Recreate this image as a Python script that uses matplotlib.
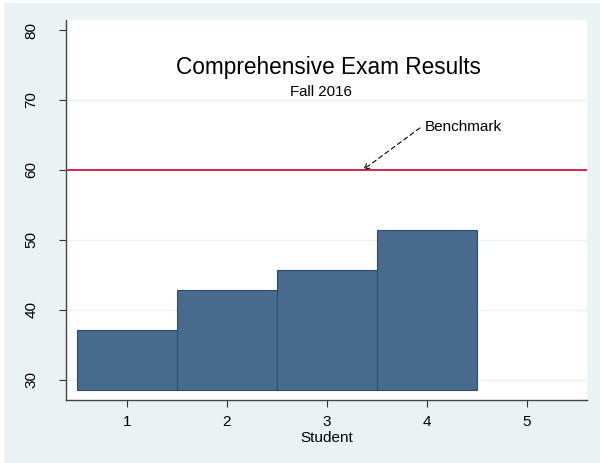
import matplotlib
matplotlib.use("Agg")
import matplotlib.pyplot as plt
from matplotlib.patches import Rectangle

students = [1, 2, 3, 4]
scores = [37.1, 42.8, 45.7, 51.4]
bar_base = 28.6
benchmark = 60
xticks = [1, 2, 3, 4, 5]
yticks = [30, 40, 50, 60, 70, 80]
title = "Comprehensive Exam Results"
subtitle = "Fall 2016"
xlabel = "Student"
note = "Benchmark"

plt.rcParams['font.family'] = ['Liberation Sans', 'DejaVu Sans']

BG = '#EAF2F3'
fig = plt.figure(figsize=(6.0, 4.63), dpi=100)
fig.patch.set_facecolor('white')
fig.patches.append(Rectangle((4/600, 0), 1, 1 - 3/463, transform=fig.transFigure,
                             facecolor=BG, edgecolor='none', zorder=-10))

ax = fig.add_axes([66/600, 1 - 400/463, (587 - 66)/600, (400 - 20)/463])
ax.set_facecolor('white')

for g in [30, 40, 50, 70]:
    ax.axhline(g, color=BG, lw=1.0, zorder=0)

heights = [s - bar_base for s in scores]
ax.bar(students, heights, width=1.0, bottom=bar_base, color='#486A8C',
       edgecolor='#2A4D70', linewidth=0.8, zorder=2)

ax.axhline(benchmark, color='#D2143C', lw=1.3, zorder=3)

ax.annotate('', xy=(3.36, benchmark), xytext=(3.93, 66.0),
            arrowprops=dict(arrowstyle='->', linestyle=(0, (4, 3)), color='black',
                            lw=0.8, shrinkA=0, shrinkB=0), zorder=4)
ax.text(3.975, 66.1, note, ha='left', va='center', fontsize=11, color='black')

ax.text(0.503, 0.874, title, transform=ax.transAxes, ha='center', va='center',
        fontsize=16.3, color='black')
ax.text(0.489, 0.811, subtitle, transform=ax.transAxes, ha='center', va='center',
        fontsize=10.8, color='black')

ax.set_xlim(0.394, 5.6)
ax.set_ylim(27.14, 81.43)
ax.set_xticks(xticks)
ax.set_yticks(yticks)
ax.set_xticklabels([str(t) for t in xticks], fontsize=11)
ax.set_yticklabels([str(t) for t in yticks], fontsize=11, rotation=90, va='center')
ax.tick_params(axis='x', length=5, width=0.8, pad=6, color='#333333')
ax.tick_params(axis='y', length=5, width=0.8, pad=15, color='#333333')
ax.set_xlabel(xlabel, fontsize=11, labelpad=1)

for s in ['top', 'right']:
    ax.spines[s].set_visible(False)
for s in ['left', 'bottom']:
    ax.spines[s].set_color('#444444')
    ax.spines[s].set_linewidth(1.0)

fig.savefig('out.png', dpi=100, facecolor=fig.get_facecolor())
